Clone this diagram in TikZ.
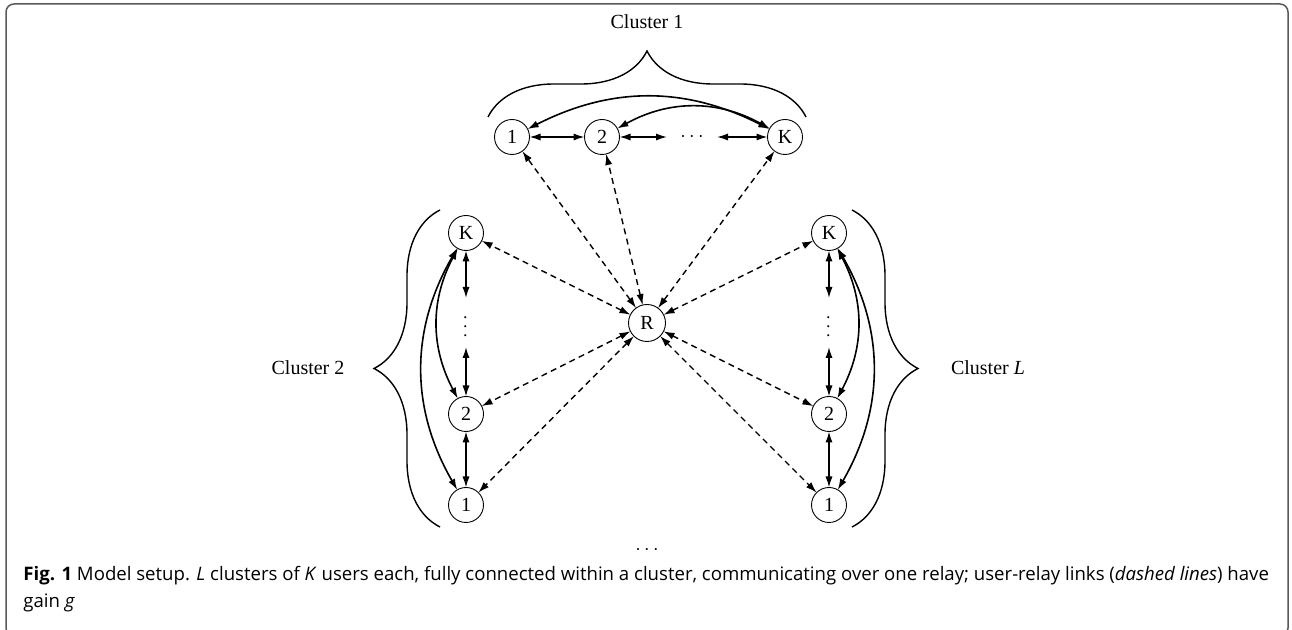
\documentclass[tikz,border=0pt]{standalone}
\usepackage{fontspec}
\setmainfont{Liberation Serif}
\newfontfamily\capfont{Open Sans}
\usetikzlibrary{arrows.meta,decorations.pathreplacing}

\begin{document}
\begin{tikzpicture}[
            x=0.5pt, y=0.5pt,
            user/.style={circle,draw,line width=0.45pt,minimum size=#1,
                inner sep=0pt, outer sep=0pt},
            user/.default=17.5pt,
            link/.style={{Latex[length=5.5pt,width=3.6pt]}-{Latex[length=5.5pt,width=3.6pt]},
                line width=0.8pt},
            relaylink/.style={link, line width=0.7pt, dash pattern=on 3pt off 2.2pt},
            clusterbrace/.style={decorate, decoration={brace,amplitude=#1},
                line width=0.7pt},
            clusterbrace/.default=33pt
        ]
        \useasboundingbox (0,0) rectangle (1292,-630);
        \draw[rounded corners=4pt, line width=0.75pt, black!65] (6,-4) rectangle (1288,-636);

        \node[user] (t1) at (512,-137) {1};
        \node[user] (t2) at (602,-137) {2};
        \node[user] (tK) at (785,-137) {K};
        \node (tdots) at (692,-137) {$\cdots$};
        \coordinate (ta) at (667,-137);
        \coordinate (tb) at (717,-137);

        \node[user] (lK) at (466,-233) {K};
        \node[user] (l2) at (466,-414) {2};
        \node[user] (l1) at (466,-505) {1};
        \node[rotate=90] (ldots) at (466,-327) {$\cdots$};
        \coordinate (la) at (466,-298);
        \coordinate (lb) at (466,-347);

        \node[user] (rK) at (829,-233) {K};
        \node[user] (r2) at (829,-414) {2};
        \node[user] (r1) at (829,-505) {1};
        \node[rotate=90] (rdots) at (829,-327) {$\cdots$};
        \coordinate (ra) at (829,-298);
        \coordinate (rb) at (829,-347);

        \node[user=18.5pt] (R) at (647,-323) {R};
        \node (bdots) at (647,-550) {$\cdots$};

        \draw[clusterbrace] (488,-117) -- (806,-117);
        \draw[clusterbrace] (440,-527) -- (440,-210);
        \draw[clusterbrace] (852,-210) -- (852,-527);
        \node (c1) at (647,-22) {Cluster 1};
        \node (c2) at (308,-368) {Cluster 2};
        \node (cL) at (988,-368) {Cluster \textit{L}};

        \draw[link] (t1) -- (t2);
        \draw[link] (t2) -- (ta);
        \draw[link] (tb) -- (tK);
        \draw[link] (t1) to[bend left=27] (tK);
        \draw[link] (t2) to[bend left=29] (tK);

        \draw[link] (lK) -- (la);
        \draw[link] (lb) -- (l2);
        \draw[link] (l2) -- (l1);
        \draw[link] (lK) to[bend right=28] (l2);
        \draw[link] (lK) to[bend right=30] (l1);

        \draw[link] (rK) -- (ra);
        \draw[link] (rb) -- (r2);
        \draw[link] (r2) -- (r1);
        \draw[link] (rK) to[bend left=28] (r2);
        \draw[link] (rK) to[bend left=30] (r1);

        % user-relay links
        \draw[relaylink] (R) -- (t1);
        \draw[relaylink] (R) -- (t2);
        \draw[relaylink] (R) -- (tK);
        \draw[relaylink] (R) -- (lK);
        \draw[relaylink] (R) -- (l2);
        \draw[relaylink] (R) -- (l1);
        \draw[relaylink] (R) -- (rK);
        \draw[relaylink] (R) -- (r2);
        \draw[relaylink] (R) -- (r1);

        \node (cap1) [anchor=base west, inner sep=0pt, font=\capfont\fontsize{9.3}{11}\selectfont]
            at (23,-581) {\textbf{Fig. 1} Model setup. \textit{L} clusters of \textit{K} users each, fully connected within a cluster, communicating over one relay; user-relay links (\textit{dashed lines}) have};
        \node (cap2) [anchor=base west, inner sep=0pt, font=\capfont\fontsize{9.3}{11}\selectfont]
            at (23,-608) {gain \textit{g}};
    \end{tikzpicture}
\end{document}
